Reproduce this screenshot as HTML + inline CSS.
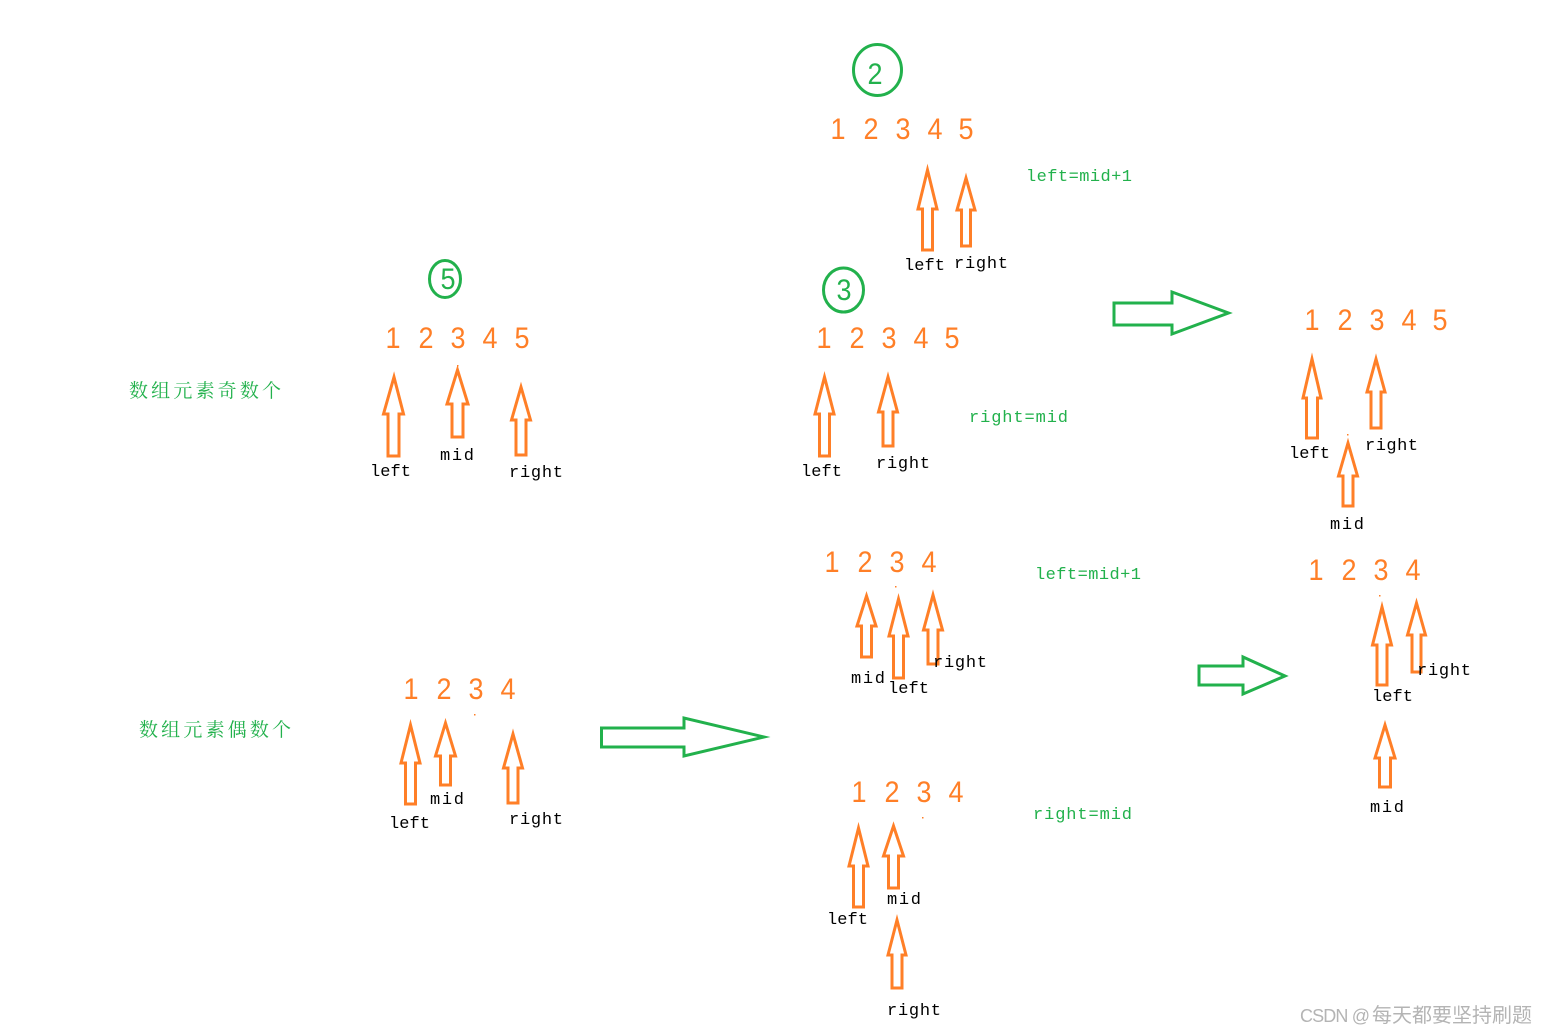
<!DOCTYPE html>
<html>
<head>
<meta charset="utf-8">
<style>
html,body{margin:0;padding:0;background:#fff;width:1546px;height:1034px;overflow:hidden}
svg{display:block}
.n{font:30px "Liberation Sans",sans-serif;fill:#ff7f27;text-anchor:middle}
.n text,.c{transform-box:fill-box;transform-origin:center;transform:scaleX(.9)}
.c{font:30px "Liberation Sans",sans-serif;fill:#22b14c;text-anchor:middle}
.l{font:17px "Liberation Mono",monospace;fill:#000}
.g{font:17px "Liberation Mono",monospace;fill:#22b14c}
.z{font:19px "Noto Serif CJK SC","Liberation Serif",serif;fill:#22b14c}
.w{font:20px "Liberation Sans","Noto Sans CJK SC",sans-serif;fill:#b4b4b4}
.o polygon{fill:#fff;stroke:#ff7f27;stroke-width:3;stroke-linejoin:miter;stroke-miterlimit:6}
.b polygon{fill:#fff;stroke:#22b14c;stroke-width:3;stroke-miterlimit:6}
ellipse{fill:none;stroke:#22b14c;stroke-width:3}
</style>
</head>
<body>
<svg width="1546" height="1034" viewBox="0 0 1546 1034" xmlns="http://www.w3.org/2000/svg">
<ellipse cx="877.5" cy="70" rx="24" ry="25.5"/>
<ellipse cx="843.5" cy="290" rx="20" ry="22"/>
<ellipse cx="445" cy="279" rx="15.5" ry="18.5"/>
<text class="c" x="875" y="84">2</text>
<text class="c" x="844" y="300">3</text>
<text class="c" x="448" y="289">5</text>

<g class="n">
<text x="838" y="139">1</text><text x="871" y="139">2</text><text x="903" y="139">3</text><text x="935" y="139">4</text><text x="966" y="139">5</text>
<text x="393" y="348">1</text><text x="426" y="348">2</text><text x="458" y="348">3</text><text x="490" y="348">4</text><text x="522" y="348">5</text>
<text x="824" y="348">1</text><text x="857" y="348">2</text><text x="889" y="348">3</text><text x="921" y="348">4</text><text x="952" y="348">5</text>
<text x="1312" y="330">1</text><text x="1345" y="330">2</text><text x="1377" y="330">3</text><text x="1409" y="330">4</text><text x="1440" y="330">5</text>
<text x="832" y="572">1</text><text x="865" y="572">2</text><text x="897" y="572">3</text><text x="929" y="572">4</text>
<text x="1316" y="580">1</text><text x="1349" y="580">2</text><text x="1381" y="580">3</text><text x="1413" y="580">4</text>
<text x="411" y="699">1</text><text x="444" y="699">2</text><text x="476" y="699">3</text><text x="508" y="699">4</text>
<text x="859" y="802">1</text><text x="892" y="802">2</text><text x="924" y="802">3</text><text x="956" y="802">4</text>
</g>

<g class="o">
<polygon points="394,377 403.5,414 399,414 399,456 388,456 388,414 383.5,414"/>
<polygon points="457.5,370 468,404 463,404 463,437 452,437 452,404 447,404"/>
<polygon points="521,387 530.5,420 526,420 526,455 516,455 516,420 511.5,420"/>
<polygon points="927.5,170 937,209 932.5,209 932.5,250 922.5,250 922.5,209 918,209"/>
<polygon points="966,178 975,210 970.5,210 970.5,246 961.5,246 961.5,210 957,210"/>
<polygon points="824.5,377 834,414 829.5,414 829.5,456 819.5,456 819.5,414 815,414"/>
<polygon points="888,377 897.5,412 893,412 893,446 883,446 883,412 878.5,412"/>
<polygon points="1312,359 1321,398 1317.5,398 1317.5,438 1306.5,438 1306.5,398 1303,398"/>
<polygon points="1376,359 1385,392 1381,392 1381,428 1371,428 1371,392 1367,392"/>
<polygon points="1348,443 1357.5,476 1353,476 1353,506 1343,506 1343,476 1338.5,476"/>
<polygon points="866.5,596 876,626 871.5,626 871.5,657 861.5,657 861.5,626 857,626"/>
<polygon points="898.5,599 908,636 903.5,636 903.5,678 893.5,678 893.5,636 889,636"/>
<polygon points="933,595 942.5,630 938,630 938,664 928,664 928,630 923.5,630"/>
<polygon points="1382,607 1391.5,645 1387,645 1387,685 1377,685 1377,645 1372.5,645"/>
<polygon points="1416.5,603 1425.5,635 1421,635 1421,672 1412,672 1412,635 1407.5,635"/>
<polygon points="1385,725 1395,758 1390.5,758 1390.5,787 1379.5,787 1379.5,758 1375,758"/>
<polygon points="410.5,725 420,763 415.5,763 415.5,804 405.5,804 405.5,763 401,763"/>
<polygon points="445.5,723 455.5,756 450.5,756 450.5,785 440.5,785 440.5,756 435.5,756"/>
<polygon points="513,734 522.5,768 518,768 518,803 508,803 508,768 503.5,768"/>
<polygon points="858.5,828 868,866 863.5,866 863.5,907 853.5,907 853.5,866 849,866"/>
<polygon points="893.5,826 903.5,856 898.5,856 898.5,888 888.5,888 888.5,856 883.5,856"/>
<polygon points="897,920 906,955 902,955 902,988 892,988 892,955 888,955"/>
</g>

<g class="b">
<polygon points="1114,303 1172,303 1172,292 1228.5,313 1172,334 1172,325 1114,325"/>
<polygon points="601.5,728 684,728 684,718 764,737 684,756 684,747 601.5,747"/>
<polygon points="1199,666 1243,666 1243,657 1285,676 1243,694 1243,685 1199,685"/>
</g>

<g class="l">
<text x="370" y="476" textLength="41">left</text>
<text x="440" y="460" textLength="34">mid</text>
<text x="509" y="477" textLength="54">right</text>
<text x="904" y="270" textLength="41">left</text>
<text x="954" y="268" textLength="54">right</text>
<text x="801" y="476" textLength="41">left</text>
<text x="876" y="468" textLength="54">right</text>
<text x="1289" y="458" textLength="41">left</text>
<text x="1365" y="450" textLength="53">right</text>
<text x="1330" y="529" textLength="34">mid</text>
<text x="851" y="683" textLength="34">mid</text>
<text x="888" y="693" textLength="41">left</text>
<text x="933" y="667" textLength="54">right</text>
<text x="1372" y="701" textLength="41">left</text>
<text x="1417" y="675" textLength="54">right</text>
<text x="1370" y="812" textLength="34">mid</text>
<text x="430" y="804" textLength="34">mid</text>
<text x="389" y="828" textLength="41">left</text>
<text x="509" y="824" textLength="54">right</text>
<text x="887" y="904" textLength="34">mid</text>
<text x="827" y="924" textLength="41">left</text>
<text x="887" y="1015" textLength="54">right</text>
</g>

<g class="g">
<text x="1026" y="181" textLength="106">left=mid+1</text>
<text x="969" y="422" textLength="99">right=mid</text>
<text x="1035" y="579" textLength="106">left=mid+1</text>
<text x="1033" y="819" textLength="99">right=mid</text>
</g>

<text class="z" x="129" y="397" textLength="152">数组元素奇数个</text>
<text class="z" x="139" y="736" textLength="152">数组元素偶数个</text>
<text class="w" x="1300" y="1022"><tspan style="font-size:18px" textLength="70">CSDN @</tspan><tspan x="1372">每天都要坚持刷题</tspan></text>

<g fill="#ff7f27">
<rect x="457" y="365" width="1.5" height="1.5"/>
<rect x="895" y="586" width="1.5" height="1.5"/>
<rect x="1379" y="595" width="1.5" height="1.5"/>
<rect x="474" y="714" width="1.5" height="1.5"/>
<rect x="922" y="817" width="1.5" height="1.5"/>
<rect x="1347" y="434" width="1.5" height="1.5"/>
</g>
</svg>
</body>
</html>
